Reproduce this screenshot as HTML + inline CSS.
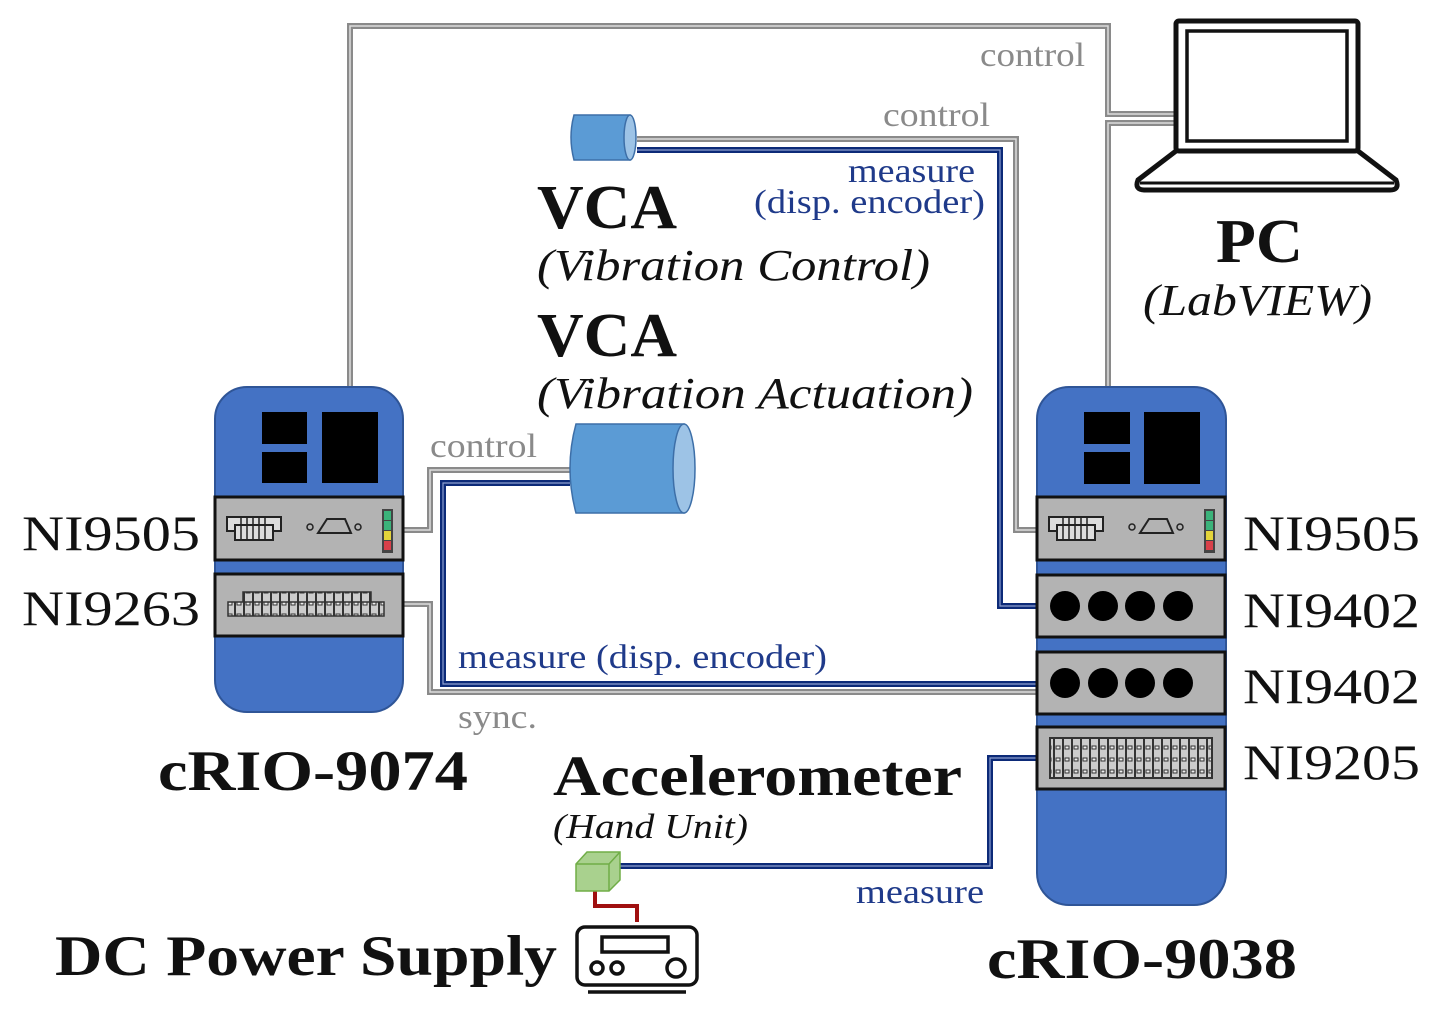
<!DOCTYPE html>
<html><head><meta charset="utf-8"><style>
html,body{margin:0;padding:0;background:#fff}
svg{display:block}
text{font-family:"Liberation Serif",serif}
</style></head><body>
<svg width="1440" height="1020" viewBox="0 0 1440 1020" xmlns="http://www.w3.org/2000/svg">
<defs>
<g id="ni9505">
 <rect x="0" y="0" width="188" height="63" fill="#b3b3b3" stroke="#111" stroke-width="3"/>
 <rect x="12" y="20" width="54" height="14" fill="#ddd" stroke="#222" stroke-width="2"/>
 <rect x="20" y="28" width="38" height="15" fill="#ddd" stroke="#222" stroke-width="2"/>
 <path d="M26 20V43M32 20V43M38 20V43M44 20V43M50 20V43" stroke="#222" stroke-width="1.5"/>
 <circle cx="95" cy="30" r="3" fill="none" stroke="#222" stroke-width="1.5"/>
 <path d="M103 36 L112 22 L130 22 L136 36 Z" fill="none" stroke="#222" stroke-width="2"/>
 <circle cx="143" cy="30" r="3" fill="none" stroke="#222" stroke-width="1.5"/>
 <rect x="167" y="12" width="11" height="44" fill="#444"/>
 <rect x="169" y="14" width="7" height="9" fill="#3bb37a"/>
 <rect x="169" y="24" width="7" height="9" fill="#3bb37a"/>
 <rect x="169" y="34" width="7" height="9" fill="#e4d43a"/>
 <rect x="169" y="44" width="7" height="9" fill="#d9404a"/>
</g>
<g id="ni9402">
 <rect x="0" y="0" width="188" height="62" fill="#b3b3b3" stroke="#111" stroke-width="3"/>
 <circle cx="28" cy="31" r="15" fill="#000"/><circle cx="66" cy="31" r="15" fill="#000"/>
 <circle cx="103" cy="31" r="15" fill="#000"/><circle cx="141" cy="31" r="15" fill="#000"/>
</g>
<pattern id="pins" width="9" height="12" patternUnits="userSpaceOnUse">
 <rect width="9" height="12" fill="#ccc"/><rect x="0" y="0" width="2" height="12" fill="#333"/><rect x="3" y="2" width="4" height="3" fill="#eee" stroke="#333" stroke-width="1"/>
</pattern>
</defs>

<g fill="none" stroke="#8a8a8a" stroke-width="6">
 <path d="M350 387V26H1108V114H1176"/>
 <path d="M1176 123H1108V387"/>
 <path d="M637 139H1016V530H1037"/>
 <path d="M403 530H430V470H570"/>
 <path d="M403 604H430V692H1037"/>
</g>
<g fill="none" stroke="#dcdcdc" stroke-width="1.5">
 <path d="M350 387V26H1108V114H1176"/>
 <path d="M1176 123H1108V387"/>
 <path d="M637 139H1016V530H1037"/>
 <path d="M403 530H430V470H570"/>
 <path d="M403 604H430V692H1037"/>
</g>
<g fill="none" stroke="#0c2a78" stroke-width="6">
 <path d="M637 150H1000V606H1037"/>
 <path d="M570 483H443V684H1037"/>
 <path d="M1037 758H990V866H615"/>
</g>
<g fill="none" stroke="#8fa0d0" stroke-width="1.2">
 <path d="M637 150H1000V606H1037"/>
 <path d="M570 483H443V684H1037"/>
 <path d="M1037 758H990V866H615"/>
</g>
<path d="M595 888V906H637V922" fill="none" stroke="#a01010" stroke-width="4"/>

<rect x="215" y="387" width="188" height="325" rx="32" fill="#4472c4" stroke="#2f5597" stroke-width="2"/>
<rect x="262" y="412" width="45" height="32" fill="#000"/>
<rect x="262" y="452" width="45" height="31" fill="#000"/>
<rect x="322" y="412" width="56" height="71" fill="#000"/>
<use href="#ni9505" x="215" y="497"/>
<rect x="215" y="574" width="188" height="62" fill="#b3b3b3" stroke="#111" stroke-width="3"/>
<rect x="243" y="592" width="128" height="15" fill="url(#pins)" stroke="#333" stroke-width="1.5"/>
<rect x="228" y="602" width="156" height="14" fill="url(#pins)" stroke="#333" stroke-width="1.5"/>

<rect x="1037" y="387" width="189" height="518" rx="32" fill="#4472c4" stroke="#2f5597" stroke-width="2"/>
<rect x="1084" y="412" width="46" height="32" fill="#000"/>
<rect x="1084" y="452" width="46" height="32" fill="#000"/>
<rect x="1144" y="412" width="56" height="72" fill="#000"/>
<use href="#ni9505" x="1037" y="497"/>
<use href="#ni9402" x="1037" y="575"/>
<use href="#ni9402" x="1037" y="652"/>
<rect x="1037" y="727" width="188" height="62" fill="#b3b3b3" stroke="#111" stroke-width="3"/>
<rect x="1050" y="738" width="162" height="40" fill="url(#pins)" stroke="#333" stroke-width="2"/>

<g stroke="#3d6fa8" stroke-width="1.5">
 <path d="M574 115H630V160H574Q568 137 574 115Z" fill="#5b9bd5"/>
 <ellipse cx="630" cy="137.5" rx="6" ry="22.5" fill="#9dc3e6"/>
 <path d="M576 424H684V513H576Q564 468 576 424Z" fill="#5b9bd5"/>
 <ellipse cx="684" cy="468.5" rx="11" ry="44.5" fill="#9dc3e6"/>
</g>

<path d="M576 864L587 852H620L620 880L609 891H576Z" fill="#a9d18e" stroke="#70ad47" stroke-width="1.5"/>
<path d="M576 864H609V891M609 864L620 852" fill="none" stroke="#70ad47" stroke-width="1.5"/>

<g fill="none" stroke="#111" stroke-width="3.5">
 <rect x="577" y="927" width="120" height="58" rx="8"/>
 <rect x="602" y="937" width="66" height="15"/>
 <circle cx="597" cy="968" r="6"/><circle cx="617" cy="968" r="6"/>
 <circle cx="676" cy="968" r="9"/>
 <path d="M588 992H686"/>
</g>

<g fill="none" stroke="#111">
 <rect x="1176" y="21" width="182" height="130" rx="3" stroke-width="5"/>
 <rect x="1187" y="31" width="160" height="110" stroke-width="3.5"/>
 <path d="M1176 151L1138 180Q1134 190 1145 190H1390Q1400 190 1396 180L1358 151" stroke-width="5"/>
 <path d="M1140 183H1394" stroke-width="3"/>
</g>

<g fill="#8a8a8a" font-size="34">
 <text x="980" y="66" textLength="105" lengthAdjust="spacingAndGlyphs">control</text>
 <text x="883" y="126" textLength="107" lengthAdjust="spacingAndGlyphs">control</text>
 <text x="430" y="457" textLength="107" lengthAdjust="spacingAndGlyphs">control</text>
 <text x="458" y="728" textLength="79" lengthAdjust="spacingAndGlyphs">sync.</text>
</g>
<g fill="#1f3a8a" font-size="34">
 <text x="848" y="182" textLength="127" lengthAdjust="spacingAndGlyphs">measure</text>
 <text x="754" y="213" textLength="231" lengthAdjust="spacingAndGlyphs">(disp. encoder)</text>
 <text x="458" y="668" textLength="369" lengthAdjust="spacingAndGlyphs">measure (disp. encoder)</text>
 <text x="856" y="903" textLength="128" lengthAdjust="spacingAndGlyphs">measure</text>
</g>
<g fill="#111">
 <text x="537" y="228" font-size="62" font-weight="bold" textLength="140" lengthAdjust="spacingAndGlyphs">VCA</text>
 <text x="537" y="280" font-size="44" font-style="italic" textLength="393" lengthAdjust="spacingAndGlyphs">(Vibration Control)</text>
 <text x="537" y="356" font-size="62" font-weight="bold" textLength="140" lengthAdjust="spacingAndGlyphs">VCA</text>
 <text x="537" y="408" font-size="44" font-style="italic" textLength="436" lengthAdjust="spacingAndGlyphs">(Vibration Actuation)</text>
 <text x="1216" y="262" font-size="62" font-weight="bold" textLength="87" lengthAdjust="spacingAndGlyphs">PC</text>
 <text x="1143" y="315" font-size="44" font-style="italic" textLength="229" lengthAdjust="spacingAndGlyphs">(LabVIEW)</text>
 <g font-size="50">
  <text x="22" y="550" textLength="178" lengthAdjust="spacingAndGlyphs">NI9505</text>
  <text x="22" y="625" textLength="178" lengthAdjust="spacingAndGlyphs">NI9263</text>
  <text x="1243" y="550" textLength="177" lengthAdjust="spacingAndGlyphs">NI9505</text>
  <text x="1243" y="627" textLength="177" lengthAdjust="spacingAndGlyphs">NI9402</text>
  <text x="1243" y="703" textLength="177" lengthAdjust="spacingAndGlyphs">NI9402</text>
  <text x="1243" y="779" textLength="177" lengthAdjust="spacingAndGlyphs">NI9205</text>
 </g>
 <text x="158" y="790" font-size="57" font-weight="bold" textLength="310" lengthAdjust="spacingAndGlyphs">cRIO-9074</text>
 <text x="553" y="795" font-size="57" font-weight="bold" textLength="409" lengthAdjust="spacingAndGlyphs">Accelerometer</text>
 <text x="553" y="838" font-size="35" font-style="italic" textLength="195" lengthAdjust="spacingAndGlyphs">(Hand Unit)</text>
 <text x="55" y="975" font-size="57" font-weight="bold" textLength="502" lengthAdjust="spacingAndGlyphs">DC Power Supply</text>
 <text x="987" y="978" font-size="57" font-weight="bold" textLength="310" lengthAdjust="spacingAndGlyphs">cRIO-9038</text>
</g>
</svg>
</body></html>
